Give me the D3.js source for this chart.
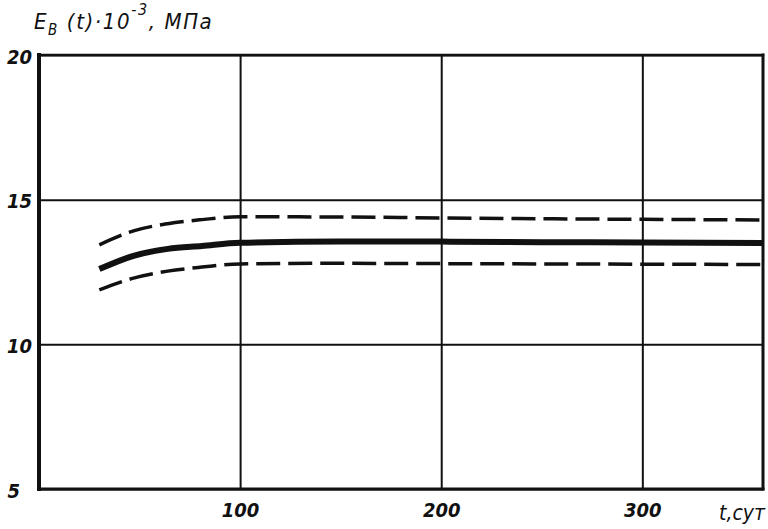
<!DOCTYPE html>
<html>
<head>
<meta charset="utf-8">
<script src="https://cdn.jsdelivr.net/npm/d3@7"></script>
<style>
  body { margin: 0; background: #fff; }
  svg text { font-family: "Liberation Sans Narrow", "DejaVu Sans Condensed", sans-serif; font-style: italic; fill: #111; }
</style>
</head>
<body>
<svg id="chart" width="768" height="529"></svg>
<script>
// time, days
var days = [30, 47, 64, 81, 100, 150, 200, 250, 300, 360];
// E_B(t) * 10^-3, MPa
var upperBound = [13.44, 13.92, 14.17, 14.31, 14.41, 14.40, 14.37, 14.34, 14.32, 14.30];
var meanValue  = [12.60, 13.06, 13.30, 13.40, 13.51, 13.55, 13.55, 13.53, 13.52, 13.50];
var lowerBound = [11.88, 12.29, 12.53, 12.67, 12.78, 12.80, 12.79, 12.78, 12.77, 12.76];

var xTicks = [100, 200, 300];
var yTicks = [5, 10, 15, 20];

(function() {
   var svg = d3.select("#chart");
   var pl = 39, pr = 763, pt = 55, pb = 489;

   var x = d3.scaleLinear().domain([0, 360]).range([pl, pr]);
   var y = d3.scaleLinear().domain([5, 20]).range([pb, pt]);

   // grid via axes
   var gx = svg.append("g")
      .attr("transform", "translate(0," + pb + ")")
      .call(d3.axisBottom(x).tickValues(xTicks).tickSize(-(pb - pt)).tickPadding(14).tickFormat(d3.format("d")));
   gx.select(".domain").remove();
   gx.selectAll("line").attr("stroke", "#111").attr("stroke-width", 2);
   gx.selectAll("text").attr("font-size", 20).attr("fill", "#111").attr("font-weight", "bold");

   var gy = svg.append("g")
      .attr("transform", "translate(" + pl + ",0)")
      .call(d3.axisLeft(y).tickValues(yTicks).tickSize(-(pr - pl)).tickPadding(7).tickFormat(d3.format("d")));
   gy.select(".domain").remove();
   gy.selectAll("line").attr("stroke", "#111").attr("stroke-width", 2);
   gy.selectAll("text").attr("font-size", 20).attr("fill", "#111").attr("font-weight", "bold").attr("dy", "0.4em");
   // the "5" sits a bit further left in the drawing
   gy.selectAll(".tick").filter(function(d) { return d === 5; }).select("text").attr("dx", -12);

   // frame, thicker on the left
   var frame = svg.append("g").attr("stroke", "#111").attr("stroke-linecap", "square");
   frame.append("line").attr("x1", pl).attr("x2", pl).attr("y1", pt).attr("y2", pb).attr("stroke-width", 4);
   frame.append("line").attr("x1", pl).attr("x2", pr).attr("y1", pb).attr("y2", pb).attr("stroke-width", 3);
   frame.append("line").attr("x1", pl).attr("x2", pr).attr("y1", pt).attr("y2", pt).attr("stroke-width", 2.5);
   frame.append("line").attr("x1", pr).attr("x2", pr).attr("y1", pt).attr("y2", pb).attr("stroke-width", 3);

   var line = d3.line()
      .x(function(d) { return x(d[0]); })
      .y(function(d) { return y(d[1]); })
      .curve(d3.curveMonotoneX);

   function series(vals) { return days.map(function(t, i) { return [t, vals[i]]; }); }

   svg.append("path").datum(series(upperBound))
      .attr("d", line).attr("fill", "none").attr("stroke", "#111")
      .attr("stroke-width", 3.5).attr("stroke-dasharray", "24,8");
   svg.append("path").datum(series(lowerBound))
      .attr("d", line).attr("fill", "none").attr("stroke", "#111")
      .attr("stroke-width", 3.5).attr("stroke-dasharray", "24,8");
   svg.append("path").datum(series(meanValue))
      .attr("d", line).attr("fill", "none").attr("stroke", "#111")
      .attr("stroke-width", 6);

   // axis titles
   var yt = svg.append("text").attr("x", 34).attr("y", 29).attr("font-size", 22).attr("letter-spacing", 1.6);
   yt.append("tspan").text("E");
   yt.append("tspan").attr("font-size", 15).attr("dy", 6).text("В");
   yt.append("tspan").attr("dy", -6).text(" (t)·10");
   yt.append("tspan").attr("font-size", 16).attr("dy", -14).text("-3");
   yt.append("tspan").attr("dy", 14).text(", МПа");

   svg.append("text").attr("x", 765).attr("y", 520).attr("text-anchor", "end")
      .attr("font-size", 21).text("t,сут");
})();
</script>
</body>
</html>
